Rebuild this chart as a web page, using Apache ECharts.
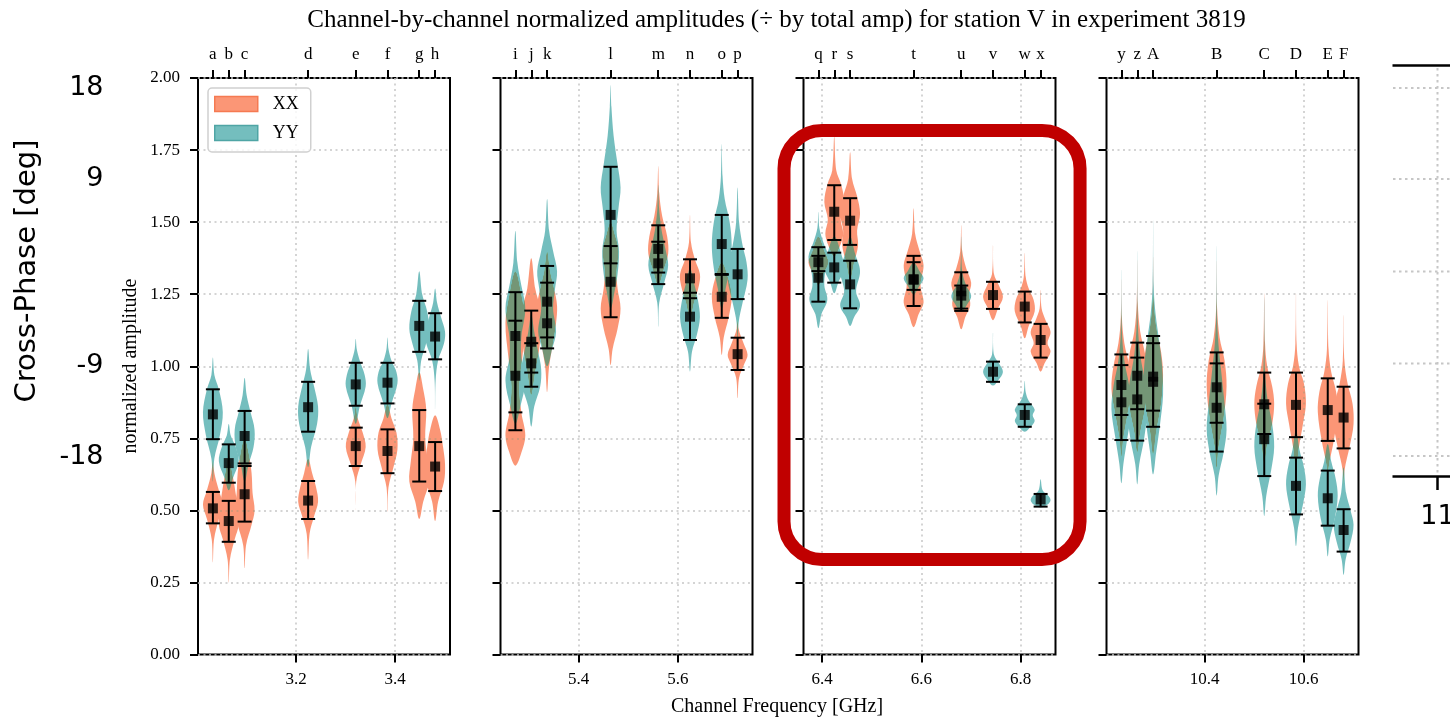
<!DOCTYPE html>
<html>
<head>
<meta charset="utf-8">
<script src="https://cdn.jsdelivr.net/npm/echarts@6/dist/echarts.min.js"></script>
<style>
  html, body { margin: 0; padding: 0; background: #ffffff; }
  #chart { width: 1450px; height: 718px; }
</style>
</head>
<body>
<div id="chart"></div>
<script>
// ---- channel data (frequencies in GHz, amplitudes normalised by total amp) ----
const channelLetters = ['a','b','c','d','e','f','g','h',
                        'i','j','k','l','m','n','o','p',
                        'q','r','s','t','u','v','w','x',
                        'y','z','A','B','C','D','E','F'];
const channelFreqs = [3.0324, 3.0644, 3.0964, 3.2244, 3.3204, 3.3844, 3.4484, 3.4804,
                      5.2724, 5.3044, 5.3364, 5.4644, 5.5604, 5.6244, 5.6884, 5.7204,
                      6.3924, 6.4244, 6.4564, 6.5844, 6.6804, 6.7444, 6.8084, 6.8404,
                      10.2324, 10.2644, 10.2964, 10.4244, 10.5204, 10.5844, 10.6484, 10.6804];

const xxMedian  = [0.507, 0.463, 0.556, 0.534, 0.723, 0.706, 0.723, 0.652,
                   1.105, 1.085, 1.224, 1.293, 1.407, 1.305, 1.241, 1.042,
                   1.361, 1.536, 1.505, 1.302, 1.260, 1.247, 1.207, 1.091,
                   0.935, 0.967, 0.964, 0.927, 0.868, 0.866, 0.848, 0.822];
const xxErrLow  = [0.455, 0.391, 0.461, 0.470, 0.654, 0.629, 0.600, 0.567,
                   0.778, 0.978, 1.100, 1.170, 1.325, 1.236, 1.168, 0.987,
                   1.330, 1.438, 1.421, 1.209, 1.192, 1.199, 1.152, 1.030,
                   0.831, 0.851, 0.846, 0.804, 0.765, 0.754, 0.741, 0.715];
const xxErrHigh = [0.564, 0.533, 0.654, 0.602, 0.787, 0.781, 0.848, 0.737,
                   1.257, 1.193, 1.348, 1.417, 1.489, 1.371, 1.320, 1.099,
                   1.383, 1.628, 1.583, 1.383, 1.326, 1.293, 1.259, 1.147,
                   1.041, 1.082, 1.080, 1.048, 0.978, 0.978, 0.958, 0.929];

const yyMedian  = [0.833, 0.664, 0.758, 0.858, 0.937, 0.943, 1.140, 1.103,
                   0.967, 1.010, 1.149, 1.525, 1.357, 1.172, 1.424, 1.319,
                   1.307, 1.343, 1.284, 1.300, 1.245, 0.981, 0.831, 0.538,
                   0.875, 0.885, 0.946, 0.856, 0.747, 0.585, 0.542, 0.432];
const yyErrLow  = [0.747, 0.596, 0.663, 0.773, 0.863, 0.871, 1.050, 1.024,
                   0.840, 0.929, 1.062, 1.357, 1.285, 1.091, 1.317, 1.233,
                   1.224, 1.290, 1.201, 1.265, 1.200, 0.946, 0.790, 0.513,
                   0.744, 0.742, 0.790, 0.704, 0.619, 0.486, 0.447, 0.357];
const yyErrHigh = [0.920, 0.729, 0.845, 0.946, 1.012, 1.012, 1.227, 1.184,
                   1.158, 1.080, 1.290, 1.692, 1.432, 1.255, 1.525, 1.407,
                   1.413, 1.394, 1.366, 1.361, 1.280, 1.016, 0.868, 0.557,
                   1.004, 1.030, 1.105, 1.010, 0.870, 0.683, 0.638, 0.504];

// violin outlines: [amplitude, relative density] from lower tip to upper tip
const xxViolin = [
  [[0.32,0],[0.40,0.12],[0.47,0.6],[0.52,1],[0.57,0.6],[0.63,0.15],[0.68,0]],
  [[0.25,0],[0.33,0.12],[0.40,0.6],[0.45,1],[0.52,0.85],[0.58,0.6],[0.64,0.3],[0.70,0]],
  [[0.30,0],[0.38,0.15],[0.45,0.7],[0.50,1],[0.56,0.8],[0.63,0.7],[0.70,0.4],[0.75,0]],
  [[0.33,0],[0.42,0.15],[0.48,0.6],[0.53,1],[0.58,0.8],[0.63,0.4],[0.68,0]],
  [[0.50,0],[0.60,0.05],[0.66,0.5],[0.72,1],[0.77,0.7],[0.82,0.2],[0.86,0]],
  [[0.495,0],[0.58,0.1],[0.65,0.6],[0.71,1],[0.77,0.9],[0.82,0.4],[0.87,0]],
  [[0.47,0],[0.53,0.4],[0.60,1],[0.67,0.85],[0.75,0.6],[0.85,0.7],[0.92,0.4],[0.98,0]],
  [[0.463,0],[0.53,0.3],[0.60,0.9],[0.66,1],[0.72,0.8],[0.78,0.5],[0.83,0]],
  [[0.655,0],[0.70,0.6],[0.76,1],[0.84,0.6],[0.93,0.4],[1.03,0.7],[1.15,1],[1.25,0.6],[1.33,0]],
  [[0.90,0],[0.98,0.4],[1.06,0.8],[1.14,1],[1.20,0.9],[1.27,0.4],[1.375,0]],
  [[0.91,0],[1.00,0.2],[1.08,0.6],[1.15,0.9],[1.21,1],[1.27,0.7],[1.33,0.3],[1.40,0]],
  [[1.004,0],[1.06,0.2],[1.13,0.7],[1.20,1],[1.27,0.7],[1.33,0.6],[1.40,0.8],[1.46,0.4],[1.50,0]],
  [[1.28,0],[1.33,0.5],[1.39,1],[1.45,0.9],[1.52,0.4],[1.60,0.1],[1.695,0]],
  [[1.16,0],[1.22,0.4],[1.28,0.9],[1.32,1],[1.37,0.5],[1.43,0.1],[1.525,0]],
  [[1.039,0],[1.10,0.2],[1.17,0.7],[1.24,1],[1.30,0.7],[1.36,0]],
  [[0.889,0],[0.96,0.15],[1.01,0.7],[1.04,1],[1.08,0.6],[1.13,0.1],[1.20,0]],
  [[1.28,0],[1.32,0.5],[1.36,1],[1.40,0.6],[1.45,0]],
  [[1.38,0],[1.42,0.6],[1.46,0.9],[1.51,0.65],[1.57,1],[1.63,0.7],[1.68,0.2],[1.796,0]],
  [[1.30,0],[1.36,0.4],[1.42,0.8],[1.47,0.7],[1.53,1],[1.59,0.7],[1.65,0.2],[1.742,0]],
  [[1.135,0],[1.18,0.5],[1.22,1],[1.28,0.7],[1.35,1],[1.40,0.6],[1.46,0.15],[1.548,0]],
  [[1.128,0],[1.17,0.4],[1.21,0.9],[1.25,0.8],[1.29,1],[1.34,0.5],[1.40,0.1],[1.49,0]],
  [[1.16,0],[1.20,0.5],[1.24,1],[1.28,0.6],[1.32,0.1],[1.42,0]],
  [[1.097,0],[1.14,0.4],[1.19,1],[1.23,0.9],[1.27,0.4],[1.31,0.1],[1.394,0]],
  [[0.981,0],[1.01,0.4],[1.05,1],[1.08,0.7],[1.12,1],[1.16,0.5],[1.20,0.1],[1.265,0]],
  [[0.686,0],[0.75,0.2],[0.83,0.6],[0.92,1],[1.00,0.8],[1.08,0.3],[1.17,0.05],[1.302,0]],
  [[0.70,0],[0.77,0.3],[0.86,0.8],[0.96,1],[1.04,0.8],[1.12,0.3],[1.22,0.05],[1.369,0]],
  [[0.692,0],[0.77,0.3],[0.87,0.8],[0.97,1],[1.05,0.8],[1.14,0.3],[1.24,0.05],[1.38,0]],
  [[0.647,0],[0.72,0.2],[0.82,0.7],[0.93,1],[1.02,0.8],[1.10,0.3],[1.20,0.05],[1.366,0]],
  [[0.66,0],[0.73,0.3],[0.80,0.8],[0.87,1],[0.93,0.8],[1.00,0.3],[1.08,0.08],[1.253,0]],
  [[0.64,0],[0.72,0.3],[0.80,0.7],[0.87,1],[0.94,0.8],[1.00,0.3],[1.08,0.06],[1.253,0]],
  [[0.55,0],[0.65,0.1],[0.74,0.6],[0.84,1],[0.91,0.85],[0.98,0.35],[1.06,0.08],[1.23,0]],
  [[0.55,0],[0.64,0.1],[0.72,0.6],[0.80,1],[0.87,0.9],[0.94,0.4],[1.02,0.08],[1.178,0]]
];
const yyViolin = [
  [[0.60,0],[0.68,0.15],[0.76,0.7],[0.84,1],[0.92,0.6],[0.97,0.15],[1.03,0]],
  [[0.57,0],[0.61,0.4],[0.67,1],[0.72,0.7],[0.76,0.2],[0.80,0]],
  [[0.60,0],[0.66,0.4],[0.72,0.9],[0.78,1],[0.84,0.6],[0.90,0.2],[0.96,0]],
  [[0.65,0],[0.72,0.3],[0.80,0.9],[0.86,1],[0.93,0.6],[0.99,0.2],[1.06,0]],
  [[0.80,0],[0.86,0.4],[0.93,1],[0.97,0.9],[1.02,0.4],[1.06,0.1],[1.095,0]],
  [[0.82,0],[0.87,0.4],[0.94,1],[0.98,0.9],[1.02,0.4],[1.06,0.1],[1.10,0]],
  [[0.95,0],[1.02,0.2],[1.08,0.7],[1.13,1],[1.19,0.8],[1.25,0.3],[1.33,0]],
  [[0.85,0],[0.95,0.05],[1.02,0.3],[1.08,0.9],[1.12,1],[1.17,0.6],[1.22,0.2],[1.27,0]],
  [[0.80,0],[0.86,0.5],[0.95,1],[1.03,0.6],[1.10,0.6],[1.20,1],[1.28,0.6],[1.36,0.2],[1.47,0]],
  [[0.79,0],[0.86,0.3],[0.93,0.9],[0.99,1],[1.05,0.7],[1.12,0.3],[1.18,0]],
  [[1.00,0],[1.06,0.5],[1.12,0.9],[1.20,0.6],[1.27,0.8],[1.33,1],[1.40,0.6],[1.47,0.2],[1.58,0]],
  [[1.20,0],[1.26,0.4],[1.32,0.7],[1.40,0.85],[1.47,0.6],[1.55,0.8],[1.62,1],[1.70,0.7],[1.80,0.3],[1.90,0.08],[1.976,0]],
  [[1.137,0],[1.22,0.1],[1.29,0.6],[1.35,1],[1.41,0.7],[1.48,0.3],[1.55,0.08],[1.63,0]],
  [[0.981,0],[1.05,0.2],[1.11,0.7],[1.17,1],[1.23,0.8],[1.29,0.4],[1.34,0]],
  [[1.20,0],[1.27,0.4],[1.34,0.8],[1.42,1],[1.50,0.8],[1.58,0.3],[1.66,0.08],[1.771,0]],
  [[1.05,0],[1.15,0.1],[1.22,0.5],[1.30,1],[1.36,0.9],[1.42,0.5],[1.50,0.15],[1.62,0]],
  [[1.132,0],[1.18,0.3],[1.23,0.9],[1.28,0.6],[1.33,0.7],[1.38,1],[1.43,0.5],[1.48,0.1],[1.536,0]],
  [[1.253,0],[1.29,0.4],[1.34,1],[1.39,0.7],[1.45,0]],
  [[1.14,0],[1.17,0.4],[1.21,1],[1.26,0.6],[1.33,1],[1.39,0.5],[1.45,0]],
  [[1.25,0],[1.28,0.6],[1.305,1],[1.33,0.6],[1.36,0]],
  [[1.19,0],[1.22,0.7],[1.245,1],[1.28,0.5],[1.33,0.1],[1.45,0]],
  [[0.933,0],[0.95,0.5],[0.98,1],[1.01,0.6],[1.04,0.1],[1.116,0]],
  [[0.773,0],[0.79,0.6],[0.81,1],[0.83,0.8],[0.85,1],[0.88,0.4],[0.91,0.1],[0.95,0]],
  [[0.51,0],[0.52,0.7],[0.535,1],[0.55,0.8],[0.57,0.2],[0.608,0]],
  [[0.594,0],[0.66,0.2],[0.75,0.6],[0.85,1],[0.93,0.8],[1.02,0.3],[1.12,0.06],[1.336,0]],
  [[0.59,0],[0.66,0.2],[0.75,0.7],[0.85,1],[0.94,0.8],[1.04,0.3],[1.15,0.06],[1.40,0]],
  [[0.625,0],[0.70,0.3],[0.80,0.7],[0.90,1],[1.00,0.9],[1.09,0.6],[1.18,0.25],[1.28,0.05],[1.507,0]],
  [[0.551,0],[0.62,0.2],[0.70,0.7],[0.78,1],[0.87,0.8],[0.97,0.5],[1.07,0.2],[1.17,0.05],[1.42,0]],
  [[0.48,0],[0.55,0.2],[0.64,0.7],[0.72,1],[0.80,0.8],[0.88,0.35],[0.98,0.08],[1.24,0]],
  [[0.376,0],[0.44,0.2],[0.52,0.7],[0.59,1],[0.65,0.8],[0.71,0.35],[0.78,0]],
  [[0.34,0],[0.40,0.2],[0.47,0.7],[0.55,1],[0.61,0.8],[0.67,0.35],[0.73,0]],
  [[0.276,0],[0.33,0.2],[0.39,0.7],[0.45,1],[0.50,0.7],[0.56,0.25],[0.65,0]]
];

// axis ranges and ticks
const panelRanges = [[3.0024, 3.5104], [5.2424, 5.7504], [6.3624, 6.8704], [10.2024, 10.7104]];
const freqTicks = [[3.2, 3.4], [5.4, 5.6], [6.4, 6.6, 6.8], [10.4, 10.6]];
const ampRange = [0, 2];
const ampInterval = 0.25;
const phaseTickLabels = ['18', '9', '-9', '-18'];
const phaseTickY = [88, 179, 366, 457];

// highlighted region (panel 3 data units)
const highlightBox = { panel: 2, freqFrom: 6.3231, freqTo: 6.9199, ampFrom: 0.3296, ampTo: 1.818 };

// ---- styling ----
const SERIF = 'Liberation Serif';
const SANS = 'DejaVu Sans';
const XX_FILL = '#fb9676';
const YY_FILL = '#74bebe';
const GRID_LEFT = [198, 500.5, 803.5, 1106.5];
const GRID_TOP = 78, GRID_WIDTH = 252, GRID_HEIGHT = 576.5;
const VIOLIN_HALF_WIDTH = 0.02;   // GHz
const CAP_HALF = 7;               // px
const GRID_LINE = { color: '#c6c6c6', width: 1.5, type: [2, 3.5] };

function letterFor(v) {
  for (let i = 0; i < channelFreqs.length; i++) {
    if (Math.abs(channelFreqs[i] - v) < 1e-6) return channelLetters[i];
  }
  return '';
}

function violinRenderer(profiles, fill) {
  return function (params, api) {
    const f = api.value(0);
    const prof = profiles[api.value(2)];
    const pts = prof.map(([v, w]) => api.coord([f - w * VIOLIN_HALF_WIDTH, v]));
    for (let k = prof.length - 2; k >= 1; k--) {
      const [v, w] = prof[k];
      pts.push(api.coord([f + w * VIOLIN_HALF_WIDTH, v]));
    }
    return {
      type: 'polygon',
      name: 'violin',
      shape: { points: pts, smooth: 0.35 },
      style: { fill: fill }
    };
  };
}

function errorBarRenderer(params, api) {
  const f = api.value(0);
  const lo = api.coord([f, api.value(1)]);
  const hi = api.coord([f, api.value(2)]);
  const st = { stroke: '#000', lineWidth: 2 };
  return {
    type: 'group',
    children: [
      { type: 'line', shape: { x1: lo[0], y1: lo[1], x2: hi[0], y2: hi[1] }, style: st },
      { type: 'line', shape: { x1: lo[0] - CAP_HALF, y1: lo[1], x2: lo[0] + CAP_HALF, y2: lo[1] }, style: st },
      { type: 'line', shape: { x1: hi[0] - CAP_HALF, y1: hi[1], x2: hi[0] + CAP_HALF, y2: hi[1] }, style: st }
    ]
  };
}

const grids = [], xAxes = [], yAxes = [], series = [];
for (let p = 0; p < 4; p++) {
  const idx = [];
  for (let i = 0; i < channelFreqs.length; i++) {
    if (channelFreqs[i] >= panelRanges[p][0] && channelFreqs[i] <= panelRanges[p][1]) idx.push(i);
  }
  const chFreqs = idx.map(i => channelFreqs[i]);

  grids.push({ left: GRID_LEFT[p], top: GRID_TOP, width: GRID_WIDTH, height: GRID_HEIGHT,
               show: true, borderColor: '#000', borderWidth: 2, backgroundColor: 'transparent' });

  xAxes.push({
    type: 'value', gridIndex: p, position: 'bottom',
    min: panelRanges[p][0], max: panelRanges[p][1],
    axisLine: { show: false },
    axisTick: { show: true, length: 8, lineStyle: { color: '#000', width: 2 }, customValues: freqTicks[p] },
    axisLabel: { customValues: freqTicks[p], formatter: v => v.toFixed(1),
                 fontFamily: SERIF, fontSize: 17, color: '#000', margin: 17 },
    splitLine: { show: true, lineStyle: GRID_LINE }
  });
  xAxes.push({
    type: 'value', gridIndex: p, position: 'top',
    min: panelRanges[p][0], max: panelRanges[p][1],
    axisLine: { show: false },
    axisTick: { show: true, length: 8, lineStyle: { color: '#000', width: 2 }, customValues: chFreqs },
    axisLabel: { customValues: chFreqs, formatter: v => letterFor(v),
                 fontFamily: SERIF, fontSize: 17, color: '#000', margin: 15 },
    splitLine: { show: false }
  });
  yAxes.push({
    type: 'value', gridIndex: p, min: ampRange[0], max: ampRange[1], interval: ampInterval,
    axisLine: { show: false },
    axisTick: { show: true, length: 8, lineStyle: { color: '#000', width: 2 } },
    axisLabel: { show: p === 0, formatter: v => v.toFixed(2),
                 fontFamily: SERIF, fontSize: 17, color: '#000', margin: 18 },
    splitLine: { show: true, lineStyle: GRID_LINE }
  });

  const common = { xAxisIndex: 2 * p, yAxisIndex: p, silent: true, animation: false };
  series.push(Object.assign({
    type: 'custom', name: 'XX', z: 2,
    data: idx.map(i => [channelFreqs[i], xxMedian[i], i]),
    encode: { x: 0, y: 1 },
    renderItem: violinRenderer(xxViolin, XX_FILL)
  }, common));
  series.push(Object.assign({
    type: 'custom', name: 'YY', z: 2,
    data: idx.map(i => [channelFreqs[i], yyMedian[i], i]),
    encode: { x: 0, y: 1 },
    renderItem: violinRenderer(yyViolin, YY_FILL)
  }, common));
  series.push(Object.assign({
    type: 'custom', name: 'XX spread', z: 3,
    data: idx.map(i => [channelFreqs[i], xxErrLow[i], xxErrHigh[i]]),
    encode: { x: 0, y: [1, 2] },
    renderItem: errorBarRenderer
  }, common));
  series.push(Object.assign({
    type: 'custom', name: 'YY spread', z: 3,
    data: idx.map(i => [channelFreqs[i], yyErrLow[i], yyErrHigh[i]]),
    encode: { x: 0, y: [1, 2] },
    renderItem: errorBarRenderer
  }, common));
  series.push(Object.assign({
    type: 'scatter', name: 'XX median', z: 4, symbol: 'rect', symbolSize: 10,
    itemStyle: { color: '#000' },
    data: idx.map(i => [channelFreqs[i], xxMedian[i]])
  }, common));
  series.push(Object.assign({
    type: 'scatter', name: 'YY median', z: 4, symbol: 'rect', symbolSize: 10,
    itemStyle: { color: '#000' },
    data: idx.map(i => [channelFreqs[i], yyMedian[i]])
  }, common));
}

const chart = echarts.init(document.getElementById('chart'), null, { renderer: 'canvas' });
chart.setOption({
  animation: false,
  backgroundColor: '#ffffff',
  grid: grids,
  xAxis: xAxes,
  yAxis: yAxes,
  legend: {
    data: [
      { name: 'XX', icon: 'rect', itemStyle: { color: XX_FILL, borderColor: '#f57a52', borderWidth: 1.5 } },
      { name: 'YY', icon: 'rect', itemStyle: { color: YY_FILL, borderColor: '#4fa5a5', borderWidth: 1.5 } }
    ],
    orient: 'vertical', left: 208, top: 88,
    itemWidth: 43, itemHeight: 15, itemGap: 11,
    padding: [7, 12, 10, 6],
    backgroundColor: 'rgba(255,255,255,0.8)',
    borderColor: '#d0d0d0', borderWidth: 1.5, borderRadius: 4,
    textStyle: { fontFamily: SERIF, fontSize: 18, color: '#000', padding: [0, 0, 0, 10] },
    selectedMode: false
  },
  series: series
});

// overlapping violins combine like layered translucent film: the darker channel wins
function blendViolins() {
  const zr = chart.getZr();
  zr.storage.getDisplayList(true).forEach(el => {
    if (el.name === 'violin' && el.style) {
      el.style.blend = 'darken';
      el.markRedraw();
    }
  });
  zr.refreshImmediately();
}

// ---- text, annotation and neighbouring-panel decorations ----
const boxTL = chart.convertToPixel({ xAxisIndex: 2 * highlightBox.panel, yAxisIndex: highlightBox.panel },
                                   [highlightBox.freqFrom, highlightBox.ampTo]);
const boxBR = chart.convertToPixel({ xAxisIndex: 2 * highlightBox.panel, yAxisIndex: highlightBox.panel },
                                   [highlightBox.freqTo, highlightBox.ampFrom]);

const graphics = [
  { type: 'text', x: 776.5, y: 20, z: 10,
    style: { text: 'Channel-by-channel normalized amplitudes (\u00f7 by total amp) for station V in experiment 3819',
             fontFamily: SERIF, fontSize: 25, fill: '#000', textAlign: 'center', textVerticalAlign: 'middle' } },
  { type: 'text', x: 777, y: 707, z: 10,
    style: { text: 'Channel Frequency [GHz]', fontFamily: SERIF, fontSize: 20, fill: '#000',
             textAlign: 'center', textVerticalAlign: 'middle' } },
  { type: 'text', x: 131, y: 366, rotation: Math.PI / 2, z: 10,
    style: { text: 'normalized amplitude', fontFamily: SERIF, fontSize: 20, fill: '#000',
             textAlign: 'center', textVerticalAlign: 'middle' } },
  { type: 'rect', z: 20,
    shape: { x: boxTL[0], y: boxTL[1], width: boxBR[0] - boxTL[0], height: boxBR[1] - boxTL[1], r: 38 },
    style: { fill: 'none', stroke: '#c00000', lineWidth: 13 } },
  // left neighbour: cross-phase axis
  { type: 'text', x: 27, y: 271, rotation: Math.PI / 2, z: 10,
    style: { text: 'Cross-Phase [deg]', fontFamily: SANS, fontSize: 29, fill: '#000',
             textAlign: 'center', textVerticalAlign: 'middle' } }
];
phaseTickLabels.forEach((t, k) => {
  graphics.push({ type: 'text', x: 103.5, y: phaseTickY[k], z: 10,
    style: { text: t, fontFamily: SANS, fontSize: 27, fill: '#000', textAlign: 'right', textVerticalAlign: 'middle' } });
});
// right neighbour: frame, grid and first tick of another panel
const rightGridY = [88, 179, 271.5, 363.5, 456];
rightGridY.forEach(y => {
  graphics.push({ type: 'line', z: 5, shape: { x1: 1393, y1: y, x2: 1450, y2: y },
                  style: { stroke: '#c6c6c6', lineWidth: 2, lineDash: [2.5, 3.5] } });
});
graphics.push({ type: 'line', z: 5, shape: { x1: 1437.5, y1: 68, x2: 1437.5, y2: 475 },
                style: { stroke: '#c6c6c6', lineWidth: 2, lineDash: [2.5, 3.5] } });
graphics.push({ type: 'line', z: 6, shape: { x1: 1392.5, y1: 65.5, x2: 1452, y2: 65.5 },
                style: { stroke: '#000', lineWidth: 2.5 } });
graphics.push({ type: 'line', z: 6, shape: { x1: 1392.5, y1: 476.5, x2: 1452, y2: 476.5 },
                style: { stroke: '#000', lineWidth: 2.5 } });
graphics.push({ type: 'line', z: 6, shape: { x1: 1437.5, y1: 476.5, x2: 1437.5, y2: 490 },
                style: { stroke: '#000', lineWidth: 2.5 } });
graphics.push({ type: 'text', x: 1437.5, y: 517, z: 10,
                style: { text: '11', fontFamily: SANS, fontSize: 27, fill: '#000',
                         textAlign: 'center', textVerticalAlign: 'middle' } });

chart.setOption({ graphic: graphics });
blendViolins();
</script>
</body>
</html>
